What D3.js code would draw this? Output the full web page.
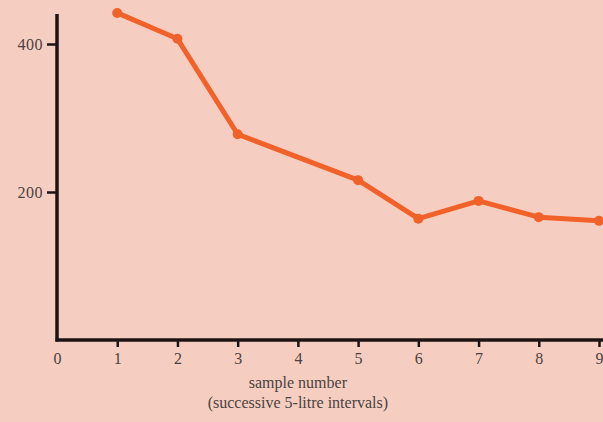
<!DOCTYPE html>
<html>
<head>
<meta charset="utf-8">
<script src="https://cdn.jsdelivr.net/npm/d3@7"></script>
<style>
  html, body { margin: 0; padding: 0; background: #f6cec1; overflow: hidden; }
  text { font-family: "Liberation Serif", "DejaVu Serif", serif; fill: #4a4240; }
</style>
</head>
<body>
<div id="graph1"></div>
<script>
let width = 603;
let height = 422;

// valeurs
let samples = [1, 2, 3, 5, 6, 7, 8, 9];
let counts = [442, 407, 278, 216, 164, 188, 166, 161];
let xTicks = [0, 1, 2, 3, 4, 5, 6, 7, 8, 9];
let yTicks = [200, 400];
let xTitle = ["sample number", "(successive 5-litre intervals)"];

let svg = d3.select('#graph1')
    .append('svg')
        .attr('width', width)
        .attr('height', height);

let x = d3.scaleLinear()
    .domain([0, 9])
    .range([57, 599]);

let y = d3.scaleLinear()
    .domain([0, 400])
    .range([340, 44]);

// axe des y
let yAxis = d3.axisLeft(y)
    .tickValues(yTicks)
    .tickSize(10)
    .tickPadding(4)
    .tickFormat(d3.format('d'));
let gy = svg.append('g')
    .attr('transform', 'translate(' + x(0) + ',0)')
    .call(yAxis);
gy.select('.domain').remove();
gy.selectAll('line').attr('stroke', '#1c1414').attr('stroke-width', 2.5);
gy.selectAll('text').style('font-size', '16px').style('fill', '#4a4240').style('letter-spacing', '0.5px');
svg.append('line')
    .attr('x1', x(0)).attr('x2', x(0))
    .attr('y1', 14).attr('y2', y(0) + 1.5)
    .attr('stroke', '#1c1414')
    .attr('stroke-width', 3.5);

// axe des x
let xAxis = d3.axisBottom(x)
    .tickValues(xTicks)
    .tickSize(7)
    .tickPadding(6)
    .tickFormat(d3.format('d'));
let gx = svg.append('g')
    .attr('transform', 'translate(0,' + y(0) + ')')
    .call(xAxis);
gx.select('.domain').remove();
gx.selectAll('line').attr('stroke', '#1c1414').attr('stroke-width', 2.5)
    .filter(function(d) { return d === 0; }).remove();
gx.selectAll('text').style('font-size', '16px').style('fill', '#4a4240');
svg.append('line')
    .attr('x1', x(0) - 1.5).attr('x2', width)
    .attr('y1', y(0)).attr('y2', y(0))
    .attr('stroke', '#1c1414')
    .attr('stroke-width', 3.5);

xTitle.forEach(function(t, i) {
    svg.append('text')
        .attr('x', x(4))
        .attr('y', 388 + i * 20)
        .attr('text-anchor', 'middle')
        .style('font-size', '16px')
        .text(t);
});

// courbe
let line = d3.line()
    .x(function(d, i) { return x(samples[i]); })
    .y(function(d) { return y(d); });
svg.append('path')
    .datum(counts)
    .attr('d', line)
    .style('fill', 'none')
    .style('stroke-width', '5')
    .style('stroke-linejoin', 'round')
    .attr('stroke', '#f1622a');

svg.selectAll('circle')
    .data(counts)
    .enter()
    .append('circle')
        .attr('cx', function(d, i) { return x(samples[i]); })
        .attr('cy', function(d) { return y(d); })
        .attr('r', 5)
        .attr('fill', '#f1622a');
</script>
</body>
</html>
